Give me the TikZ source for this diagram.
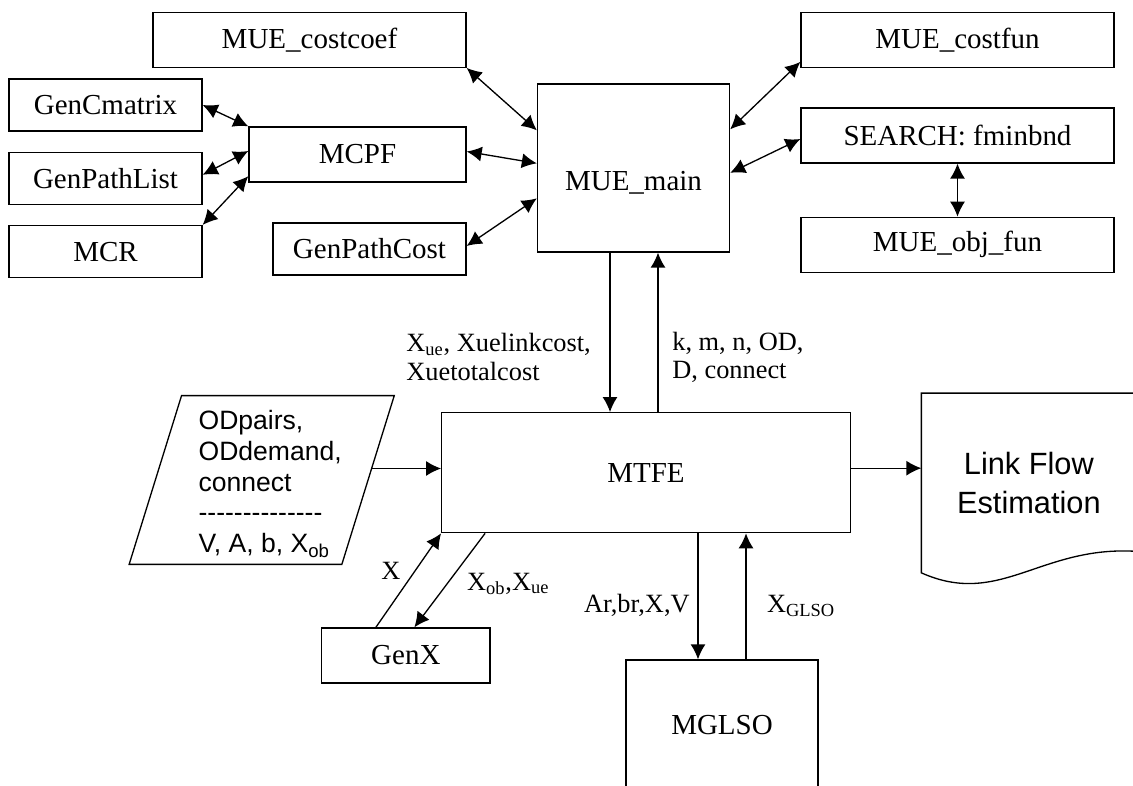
\documentclass[tikz,border=0pt]{standalone}
\usepackage{fontspec}
\setmainfont{Liberation Serif}
\setsansfont{Liberation Sans}
\usepackage{tikz}
\usetikzlibrary{
  arrows.meta,
  calc,
  positioning
}
\tikzset{
  >=Latex,
  every picture/.style = {line join=miter},
  module/.style = {
    draw=black,
    fill=white,
    line width=0.75pt,
    align=center,
    inner sep=2pt,
    font=\fontsize{16.5}{19}\selectfont
  },
  outline/.style = {draw=black, line width=0.75pt},
  io area/.style = {inner sep=0pt},
  io text/.style = {
    font=\sffamily\fontsize{15.1}{17.4}\selectfont,
    inner sep=0pt,
    align=left
  },
  doc text/.style = {
    font=\sffamily\fontsize{17.5}{21.8}\selectfont,
    align=center,
    inner sep=0pt
  },
  flow/.style = {-{Latex[length=3.0mm,width=3.0mm]}, draw=black, line width=0.75pt},
  bidir/.style = {{Latex[length=3.0mm,width=3.0mm]}-{Latex[length=3.0mm,width=3.0mm]}, draw=black, line width=0.75pt},
  flow label/.style = {
    font=\fontsize{15}{16}\selectfont,
    inner sep=0pt,
    align=left
  },
}

\begin{document}
\begin{tikzpicture}[x=1cm,y=1cm]
  \useasboundingbox (0,0) rectangle (22.66,15.70);
  \clip (0,0) rectangle (22.66,15.70);

  \node[module, minimum width=3.84cm, minimum height=3.36cm, text height=0.92cm, text depth=0pt] (main) at (12.67,12.34) {MUE\_main};
  \node[module, minimum width=6.26cm, minimum height=1.10cm] (costcoef) at (6.19,14.905) {MUE\_costcoef};
  \node[module, minimum width=6.26cm, minimum height=1.10cm] (cfun) at (19.15,14.905) {MUE\_costfun};
  \node[module, minimum width=3.86cm, minimum height=1.04cm] (gencm) at (2.11,13.60) {GenCmatrix};
  \node[module, minimum width=3.86cm, minimum height=1.04cm, below=0.40cm of gencm] (gpl) {GenPathList};
  \node[module, minimum width=3.86cm, minimum height=1.04cm, below=0.40cm of gpl] (mcr) {MCR};
  \node[module, minimum width=4.34cm, minimum height=1.10cm] (mcpf) at (7.15,12.61) {MCPF};
  \node[module, minimum width=3.86cm, minimum height=1.04cm] (gpc) at (7.39,10.72) {GenPathCost};
  \node[module, minimum width=6.26cm, minimum height=1.10cm] (search) at (19.15,12.99) {SEARCH: fminbnd};
  \node[module, minimum width=6.26cm, minimum height=1.10cm, below=1.06cm of search] (objfun) {MUE\_obj\_fun};

  \node[module, minimum width=8.17cm, minimum height=2.40cm] (mtfe) at (12.92,6.246) {MTFE};
  \node[module, minimum width=3.366cm, minimum height=1.10cm] (genx) at (8.117,2.59) {GenX};
  \node[module, minimum width=3.84cm, minimum height=2.60cm] (mglso) at (14.44,1.20) {MGLSO};

  \node[io area, minimum width=4.24cm, minimum height=3.36cm] (odin) at (5.234,6.10) {};
  \draw[outline] ([xshift=-0.524cm]odin.south west) -- ([xshift=0.524cm]odin.north west)
    -- ([xshift=0.524cm]odin.north east) -- ([xshift=-0.524cm]odin.south east) -- cycle;
  \node[io text, anchor=west] (odtxt) at (3.966,6.02)
    {ODpairs,\\ODdemand,\\connect\\-{}-{}-{}-{}-{}-{}-{}-{}-{}-{}-{}-{}-{}-\\V, A, b, X\textsubscript{ob}};

  \node[doc text, minimum width=4.286cm, minimum height=3.58cm] (lfe) at (20.577,6.04) {Link Flow\\Estimation};
  \draw[outline] ([yshift=0.43cm]lfe.south east) -- (lfe.north east) -- (lfe.north west) -- (lfe.south west)
    .. controls +(1.57,-0.70) and +(-1.92,0.12) .. ([yshift=0.43cm]lfe.south east);

  \draw[bidir] (costcoef.south east) -- ([yshift=-0.94cm]main.north west);
  \draw[bidir] (gencm.east) -- (mcpf.north west);
  \draw[bidir] ([yshift=0.07cm]gpl.east) -- ([yshift=0.07cm]mcpf.west);
  \draw[bidir] (mcr.north east) -- ([yshift=0.13cm]mcpf.south west);
  \draw[bidir] ([yshift=0.06cm]mcpf.east) -- ([yshift=-1.60cm]main.north west);
  \draw[bidir] ([yshift=0.06cm]gpc.east) -- ([yshift=-2.30cm]main.north west);
  \draw[bidir] ([yshift=0.12cm]cfun.south west) -- ([yshift=-0.92cm]main.north east);
  \draw[bidir] ([yshift=-0.07cm]search.west) -- ([yshift=-1.79cm]main.north east);
  \draw[bidir] (search.south) -- (objfun.north);

  \draw[flow] ([xshift=-0.47cm]main.south) -- ([xshift=-0.47cm]main.south |- mtfe.north);
  \draw[flow] ([xshift=0.49cm]main.south |- mtfe.north) -- ([xshift=0.49cm]main.south);
  \draw[flow] ([xshift=0.07cm,yshift=0.23cm]odin.east) -- ([yshift=0.23cm]odin.east -| mtfe.west);
  \draw[flow] ([yshift=0.09cm]mtfe.east) -- ([yshift=0.09cm]mtfe.east -| lfe.west);
  \draw[flow] ([xshift=-0.60cm]genx.north) -- (mtfe.south west);
  \draw[flow] ([xshift=0.88cm]mtfe.south west) -- ([xshift=0.17cm]genx.north);
  \draw[flow] ([xshift=1.04cm]mtfe.south) -- ([xshift=1.04cm]mtfe.south |- mglso.north);
  \draw[flow] ([xshift=2.00cm]mtfe.south |- mglso.north) -- ([xshift=2.00cm]mtfe.south);

  \node[flow label, anchor=west] (lblxue) at (8.12,8.56) {X\textsubscript{ue}, Xuelinkcost,\\Xuetotalcost};
  \node[flow label, anchor=west] (lblkmn) at (13.44,8.56) {k, m, n, OD,\\D, connect};
  \node[flow label] (lblx) at (7.82,4.28) {X};
  \node[flow label, anchor=base west] (lblxob) at (9.334,3.90) {X\textsubscript{ob},X\textsubscript{ue}};
  \node[flow label, anchor=base east] (lblar) at (13.80,3.44) {Ar,br,X,V};
  \node[flow label, anchor=base west] (lblglso) at (15.334,3.44) {X\textsubscript{GLSO}};
\end{tikzpicture}
\end{document}
